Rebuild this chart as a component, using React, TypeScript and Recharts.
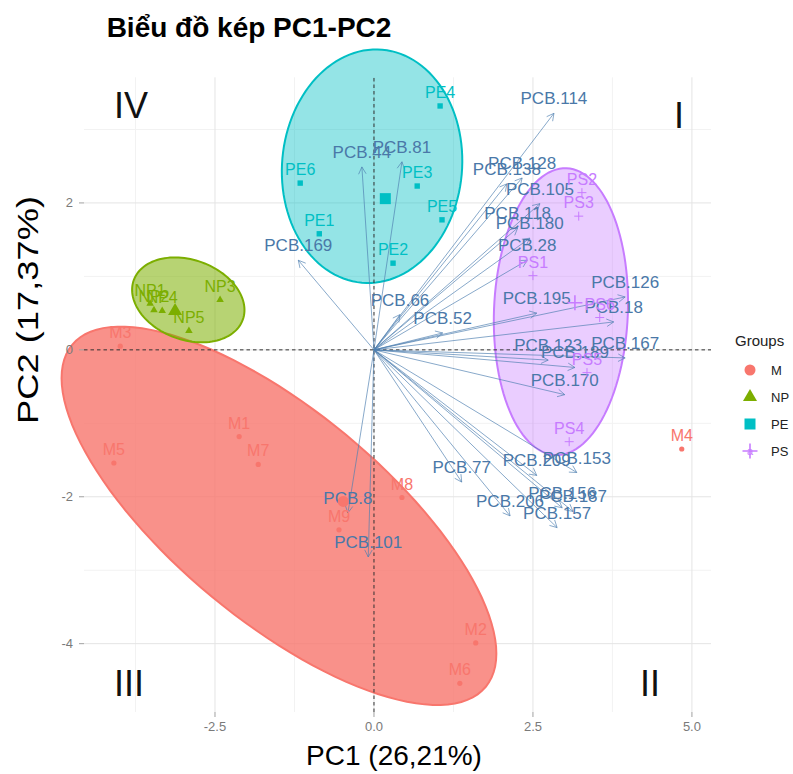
import React from 'react'
import { ScatterChart, Scatter, XAxis, YAxis } from 'recharts'

// groups
const groupNames = ['M', 'NP', 'PE', 'PS']
const groupColors = ['#F8766D', '#7CAE00', '#00BFC4', '#C77CFF']

// individuals (PC1, PC2)
const mNames = ['M1', 'M2', 'M3', 'M4', 'M5', 'M6', 'M7', 'M8', 'M9']
const mX = [-2.12, 1.6, -3.99, 4.84, -4.09, 1.35, -1.82, 0.44, -0.55]
const mY = [-1.18, -3.99, 0.05, -1.35, -1.54, -4.54, -1.56, -2.01, -2.45]

const npNames = ['NP1', 'NP2', 'NP3', 'NP4', 'NP5']
const npX = [-3.52, -3.46, -2.42, -3.33, -2.91]
const npY = [0.63, 0.54, 0.68, 0.53, 0.26]

const peNames = ['PE1', 'PE2', 'PE3', 'PE4', 'PE5', 'PE6']
const peX = [-0.86, 0.3, 0.68, 1.04, 1.07, -1.16]
const peY = [1.58, 1.18, 2.23, 3.32, 1.77, 2.27]

const psNames = ['PS1', 'PS2', 'PS3', 'PS4', 'PS5', 'PS6']
const psX = [2.5, 3.27, 3.22, 3.07, 3.35, 3.55]
const psY = [1.01, 2.14, 1.82, -1.25, -0.31, 0.44]

// variables (arrow ends)
const pcbNames = ['PCB.8', 'PCB.18', 'PCB.28', 'PCB.44', 'PCB.52', 'PCB.66', 'PCB.77', 'PCB.81', 'PCB.101', 'PCB.105', 'PCB.114', 'PCB.118', 'PCB.123', 'PCB.126', 'PCB.128', 'PCB.138', 'PCB.153', 'PCB.156', 'PCB.157', 'PCB.167', 'PCB.169', 'PCB.170', 'PCB.180', 'PCB.187', 'PCB.189', 'PCB.195', 'PCB.206', 'PCB.209']
const pcbX = [-0.41, 3.77, 2.41, -0.19, 1.08, 0.41, 1.38, 0.44, -0.09, 2.61, 2.83, 2.26, 2.74, 3.95, 2.33, 2.09, 3.19, 2.96, 2.88, 3.95, -1.19, 3.0, 2.45, 3.13, 3.16, 2.56, 2.14, 2.56]
const pcbY = [-2.22, 0.38, 1.22, 2.49, 0.23, 0.48, -1.8, 2.56, -2.82, 1.99, 3.22, 1.66, -0.14, 0.72, 2.34, 2.26, -1.67, -2.15, -2.42, -0.11, 1.22, -0.61, 1.52, -2.2, -0.24, 0.5, -2.26, -1.71]

// group ellipses: centre and two conjugate semi-axes (data units)
const ellipseCx = [-1.494, -2.92, -0.03, 2.94]
const ellipseCy = [-2.259, 0.68, 2.5, 0.52]
const ellipseUx = [3.252, 0.857, 0.16, 0.086]
const ellipseUy = [-2.328, -0.27, 1.586, 1.952]
const ellipseVx = [1.054, 0.215, 1.41, 1.052]
const ellipseVy = [1.102, 0.511, -0.107, -0.035]

// axes
const xTicks = [-2.5, 0, 2.5, 5]
const yTicks = [-4, -2, 0, 2]
const xMajor = [-2.5, 0, 2.5, 5]
const xMinor = [-3.75, -1.25, 1.25, 3.75]
const yMajor = [-4, -2, 0, 2]
const yMinor = [-3, -1, 1, 3]
const panelX = [-4.56, 5.3]
const panelY = [-4.93, 3.71]

const FONT = '"Liberation Sans", Arial, Helvetica, sans-serif'
const fillOpacity = [0.8, 0.55, 0.42, 0.38]

const toRows = (names: string[], xs: number[], ys: number[]) =>
  names.map((n, i) => ({ name: n, x: xs[i], y: ys[i] }))

const groups = [
  toRows(mNames, mX, mY),
  toRows(npNames, npX, npY),
  toRows(peNames, peX, peY),
  toRows(psNames, psX, psY),
]

const mean = (a: number[]) => a.reduce((s, v) => s + v, 0) / a.length
const centroids = groups.map((rows) => [{ name: '', x: mean(rows.map((r) => r.x)), y: mean(rows.map((r) => r.y)) }])

const ellipseOutline = (g: number) => {
  const pts = []
  for (let k = 0; k <= 120; k++) {
    const t = (k / 120) * Math.PI * 2
    pts.push({
      x: ellipseCx[g] + ellipseUx[g] * Math.cos(t) + ellipseVx[g] * Math.sin(t),
      y: ellipseCy[g] + ellipseUy[g] * Math.cos(t) + ellipseVy[g] * Math.sin(t),
    })
  }
  return pts
}

const arrowData = [{ name: '', x: 0, y: 0 }, ...toRows(pcbNames, pcbX, pcbY)]

const segPairs = (xs: number[], ys: number[]) => {
  const out: { x: number; y: number }[] = []
  xs.forEach((v) => { out.push({ x: v, y: panelY[0] }, { x: v, y: panelY[1] }) })
  ys.forEach((v) => { out.push({ x: panelX[0], y: v }, { x: panelX[1], y: v }) })
  return out
}

const noShape = () => <g />

const pairLines = (color: string, width: number, dash?: string) => (lp: any) => {
  const pts = lp.points || []
  const segs = []
  for (let i = 0; i + 1 < pts.length; i += 2) {
    segs.push(
      <line key={i} x1={pts[i].x} y1={pts[i].y} x2={pts[i + 1].x} y2={pts[i + 1].y}
        stroke={color} strokeWidth={width} strokeDasharray={dash} />
    )
  }
  return <g>{segs}</g>
}

const Mark = ({ g, cx, cy, big }: { g: number; cx: number; cy: number; big?: boolean }) => {
  const c = groupColors[g]
  if (g === 0) return <circle cx={cx} cy={cy} r={big ? 5.5 : 2.6} fill={c} />
  if (g === 1) {
    const s = big ? 14 : 7.5
    return <polygon points={`${cx},${cy - s * 0.58} ${cx - s / 2},${cy + s * 0.29} ${cx + s / 2},${cy + s * 0.29}`} fill={c} />
  }
  if (g === 2) {
    const h = big ? 5.5 : 2.7
    return <rect x={cx - h} y={cy - h} width={h * 2} height={h * 2} fill={c} />
  }
  const h = big ? 7.5 : 4.5
  return <path d={`M${cx - h},${cy}H${cx + h}M${cx},${cy - h}V${cy + h}`} stroke={c} strokeWidth={big ? 1.6 : 1} />
}

const YTick = (p: any) => (
  <g>
    <line x1={p.x + 24} x2={p.x + 29} y1={p.y} y2={p.y} stroke="#a0a0a0" />
    <text x={p.x + 18} y={p.y} dy={4.5} textAnchor="end" fontSize={13} fill="#7a7a7a" fontFamily={FONT}>
      {p.payload.value}
    </text>
  </g>
)

const arrowLines = (lp: any) => {
  const pts = lp.points || []
  if (!pts.length) return <g />
  const o = pts[0]
  return (
    <g>
      {pts.slice(1).map((h: any, i: number) => {
        const dx = h.x - o.x
        const dy = h.y - o.y
        const len = Math.sqrt(dx * dx + dy * dy) || 1
        const ux = dx / len
        const uy = dy / len
        const L = 8
        const a = (28 * Math.PI) / 180
        const w1x = h.x - L * (ux * Math.cos(a) - uy * Math.sin(a))
        const w1y = h.y - L * (uy * Math.cos(a) + ux * Math.sin(a))
        const w2x = h.x - L * (ux * Math.cos(a) + uy * Math.sin(a))
        const w2y = h.y - L * (uy * Math.cos(a) - ux * Math.sin(a))
        return (
          <g key={i} stroke="#4f7fb0" strokeWidth={0.8} fill="none" strokeOpacity={0.85}>
            <line x1={o.x} y1={o.y} x2={h.x} y2={h.y} />
            <path d={`M${w1x},${w1y}L${h.x},${h.y}L${w2x},${w2y}`} />
          </g>
        )
      })}
    </g>
  )
}

const App = () => {
  return (
    <div style={{ position: 'absolute', left: 0, top: 0, width: 793, height: 774, background: '#fff', fontFamily: FONT }}>
      <ScatterChart width={793} height={774} margin={{ top: 40, right: 82, bottom: 32, left: 25 }}>
        <XAxis type="number" dataKey="x" domain={[-5.016, 5.3]} ticks={xTicks} height={30}
          tickFormatter={(v: number) => v.toFixed(1)} axisLine={false}
          tickLine={{ stroke: '#a0a0a0' }} tickSize={5} tickMargin={5}
          tick={{ fill: '#7a7a7a', fontSize: 13, fontFamily: FONT }} />
        <YAxis type="number" dataKey="y" domain={[-4.925, 4.218]} ticks={yTicks} width={30}
          axisLine={false} tickLine={false} tickSize={0} tickMargin={0} tick={YTick} />

        <Scatter data={segPairs(xMinor, yMinor)} shape={noShape} line={pairLines('#f2f2f2', 1)} isAnimationActive={false} />
        <Scatter data={segPairs(xMajor, yMajor)} shape={noShape} line={pairLines('#e4e4e4', 1)} isAnimationActive={false} />

        {groupNames.map((gName, g) => (
          <Scatter key={'el' + gName} data={ellipseOutline(g)} shape={noShape} isAnimationActive={false}
            line={(lp: any) => {
              const pts = lp.points || []
              const d = pts.map((p: any, i: number) => `${i ? 'L' : 'M'}${p.x},${p.y}`).join('') + 'Z'
              return <path d={d} fill={groupColors[g]} fillOpacity={fillOpacity[g]} stroke={groupColors[g]} strokeWidth={2} />
            }} />
        ))}

        <Scatter data={segPairs([0], [0])} shape={noShape} line={pairLines('#333333', 1, '3.5 3')} isAnimationActive={false} />

        <Scatter data={arrowData} line={arrowLines} isAnimationActive={false}
          shape={(p: any) =>
            p.payload && p.payload.name ? (
              <text x={p.cx} y={p.cy - 9} textAnchor="middle" fontSize={17} fill="#4a78a8" fontFamily={FONT}>
                {p.payload.name}
              </text>
            ) : <g />
          } />

        {groupNames.map((gName, g) => (
          <Scatter key={'pt' + gName} data={groups[g]} isAnimationActive={false}
            shape={(p: any) => (
              <g>
                <Mark g={g} cx={p.cx} cy={p.cy} />
                <text x={p.cx} y={p.cy - 8} textAnchor="middle" fontSize={16} fill={groupColors[g]} fontFamily={FONT}>
                  {p.payload.name}
                </text>
              </g>
            )} />
        ))}

        {groupNames.map((gName, g) => (
          <Scatter key={'ct' + gName} data={centroids[g]} isAnimationActive={false}
            shape={(p: any) => <Mark g={g} cx={p.cx} cy={p.cy} big />} />
        ))}
      </ScatterChart>

      <svg width={793} height={774} style={{ position: 'absolute', left: 0, top: 0, pointerEvents: 'none' }} fontFamily={FONT}>
        <text x={249} y={37} textAnchor="middle" fontSize={28} fontWeight="bold" fill="#000">Biểu đồ kép PC1-PC2</text>
        <text x={394} y={765} textAnchor="middle" fontSize={28} fill="#000">PC1 (26,21%)</text>
        <text transform="translate(38,310) rotate(-90)" textAnchor="middle" fontSize={29} fill="#000"
          textLength={228} lengthAdjust="spacingAndGlyphs">PC2 (17,37%)</text>

        <text x={131} y={118} textAnchor="middle" fontSize={36} fill="#111">IV</text>
        <text x={679} y={128} textAnchor="middle" fontSize={36} fill="#111">I</text>
        <text x={129} y={696} textAnchor="middle" fontSize={36} fill="#111">III</text>
        <text x={650} y={696} textAnchor="middle" fontSize={36} fill="#111">II</text>

        <text x={735} y={346} fontSize={15} fill="#222">Groups</text>
        {groupNames.map((gName, g) => {
          const cy = 370 + g * 27
          return (
            <g key={'lg' + gName}>
              <Mark g={g} cx={750} cy={cy} big />
              <text x={750} y={cy + 4} textAnchor="middle" fontSize={11} fill={groupColors[g]}>a</text>
              <text x={771} y={cy + 5} fontSize={13} fill="#222">{gName}</text>
            </g>
          )
        })}
      </svg>
    </div>
  )
}

export default App
